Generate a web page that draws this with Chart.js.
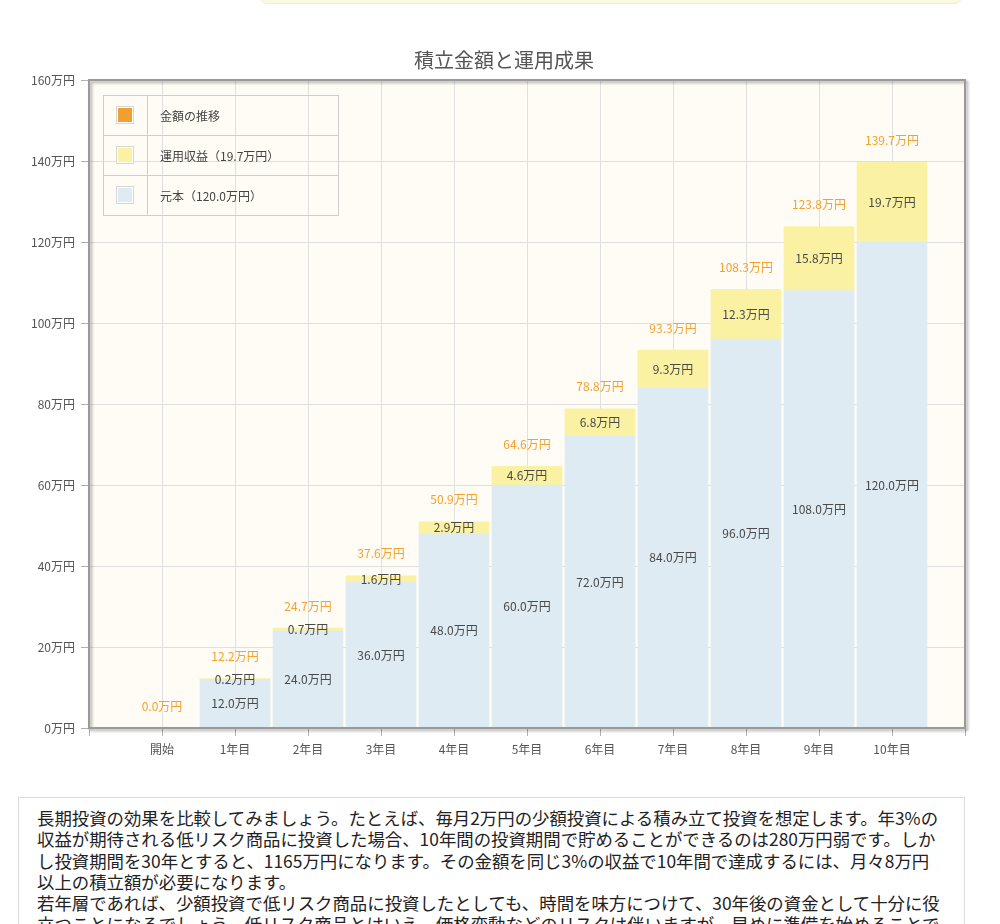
<!DOCTYPE html>
<html lang="ja">
<head>
<meta charset="utf-8">
<title>積立金額と運用成果</title>
<script src="https://cdn.jsdelivr.net/npm/chart.js@4/dist/chart.umd.min.js"></script>
<style>
  body { margin: 0; width: 1000px; height: 924px; overflow: hidden; background: #fff;
         font-family: 'Noto Sans CJK JP', sans-serif; position: relative; }
  .topbox { position: absolute; left: 258px; top: -30px; width: 704px; height: 32px;
            background: #f9f9e4; border: 1px solid #efefd2; border-radius: 10px; }
  .chart-wrap { position: absolute; left: 0; top: 40px; width: 1000px; height: 740px; }
  .note { position: absolute; left: 18px; top: 797px; width: 909px; padding: 9px 18px 20px 18px;
          border: 1px solid #ddd; font-size: 17.4px; line-height: 21.3px; color: #222; }
  .note span { display: block; white-space: nowrap; }
</style>
</head>
<body>
<div class="topbox"></div>
<div class="chart-wrap"><canvas id="fundChart" width="1000" height="740"></canvas></div>
<div class="note">
  <span>長期投資の効果を比較してみましょう。たとえば、毎月2万円の少額投資による積み立て投資を想定します。年3%の</span>
  <span>収益が期待される低リスク商品に投資した場合、10年間の投資期間で貯めることができるのは280万円弱です。しか</span>
  <span>し投資期間を30年とすると、1165万円になります。その金額を同じ3%の収益で10年間で達成するには、月々8万円</span>
  <span>以上の積立額が必要になります。</span>
  <span>若年層であれば、少額投資で低リスク商品に投資したとしても、時間を味方につけて、30年後の資金として十分に役</span>
  <span>立つことになるでしょう。低リスク商品とはいえ、価格変動などのリスクは伴いますが、早めに準備を始めることで</span>
</div>
<script>
// datos del gráfico
const categories = ['開始', '1年目', '2年目', '3年目', '4年目', '5年目', '6年目', '7年目', '8年目', '9年目', '10年目'];
const principal = [0, 12.0, 24.0, 36.0, 48.0, 60.0, 72.0, 84.0, 96.0, 108.0, 120.0];
const profit = [0, 0.2, 0.7, 1.6, 2.9, 4.6, 6.8, 9.3, 12.3, 15.8, 19.7];
const total = [0, 12.2, 24.7, 37.6, 50.9, 64.6, 78.8, 93.3, 108.3, 123.8, 139.7];
const yTickStep = 20;
const yMax = 160;

const FONT = "'Noto Sans CJK JP', sans-serif";
Chart.defaults.font.family = FONT;
Chart.defaults.font.size = 12;
Chart.defaults.color = '#555';

const toPoints = arr => arr.map((v, i) => ({ x: i, y: v }));
const fmt = v => v.toFixed(1) + '万円';

// fondo y marco del área del gráfico
const plotFrame = {
    id: 'plotFrame',
    beforeDraw(chart) {
        const { ctx, chartArea: a } = chart;
        ctx.save();
        ctx.fillStyle = '#fefcf5';
        ctx.fillRect(a.left, a.top, a.right - a.left, a.bottom - a.top);
        ctx.restore();
    },
    afterDatasetsDraw(chart) {
        const { ctx, chartArea: a } = chart;
        ctx.save();
        ctx.shadowColor = 'rgba(0,0,0,0.35)';
        ctx.shadowBlur = 3;
        ctx.shadowOffsetX = 2;
        ctx.shadowOffsetY = 2;
        ctx.strokeStyle = '#9a9a9a';
        ctx.lineWidth = 2;
        ctx.strokeRect(a.left, a.top, a.right - a.left, a.bottom - a.top);
        ctx.restore();
    }
};

// etiquetas de valores sobre las barras
const valueLabels = {
    id: 'valueLabels',
    afterDatasetsDraw(chart) {
        const { ctx } = chart;
        const xs = chart.scales.x, ys = chart.scales.y;
        ctx.save();
        ctx.font = '12px ' + FONT;
        ctx.textAlign = 'center';
        ctx.textBaseline = 'middle';
        categories.forEach((c, i) => {
            const x = xs.getPixelForValue(i);
            if (principal[i] > 0) {
                ctx.fillStyle = '#4a4a4a';
                ctx.fillText(fmt(principal[i]), x, (ys.getPixelForValue(0) + ys.getPixelForValue(principal[i])) / 2);
            }
            if (profit[i] > 0) {
                ctx.fillStyle = '#4a4a4a';
                ctx.fillText(fmt(profit[i]), x, (ys.getPixelForValue(principal[i]) + ys.getPixelForValue(principal[i] + profit[i])) / 2);
            }
            ctx.fillStyle = '#f4a12e';
            ctx.fillText(fmt(total[i]), x, ys.getPixelForValue(total[i]) - 22);
        });
        ctx.restore();
    }
};

// leyenda en forma de tabla dentro del gráfico
const tableLegend = {
    id: 'tableLegend',
    afterDraw(chart) {
        const { ctx, chartArea: a } = chart;
        const items = chart.data.datasets;
        const x0 = a.left + 14, y0 = a.top + 15, w = 235, rowH = 40, colW = 44;
        ctx.save();
        ctx.strokeStyle = '#cfcfcf';
        ctx.lineWidth = 1;
        ctx.strokeRect(x0 + 0.5, y0 + 0.5, w, rowH * items.length);
        ctx.beginPath();
        ctx.moveTo(x0 + colW + 0.5, y0);
        ctx.lineTo(x0 + colW + 0.5, y0 + rowH * items.length);
        for (let r = 1; r < items.length; r++) {
            ctx.moveTo(x0, y0 + rowH * r + 0.5);
            ctx.lineTo(x0 + w, y0 + rowH * r + 0.5);
        }
        ctx.stroke();
        ctx.font = '12px ' + FONT;
        ctx.textBaseline = 'middle';
        ctx.textAlign = 'left';
        items.forEach((ds, r) => {
            const cy = y0 + rowH * r + rowH / 2;
            ctx.fillStyle = '#d6d6d6';
            ctx.fillRect(x0 + 13, cy - 9, 18, 18);
            ctx.fillStyle = '#fff';
            ctx.fillRect(x0 + 14, cy - 8, 16, 16);
            ctx.fillStyle = ds.legendColor;
            ctx.fillRect(x0 + 15, cy - 7, 14, 14);
            ctx.fillStyle = '#444';
            ctx.fillText(ds.label, x0 + colW + 13, cy + 1);
        });
        ctx.restore();
    }
};

const last = categories.length - 1;

new Chart(document.getElementById('fundChart'), {
    data: {
        datasets: [
            {
                type: 'line',
                label: '金額の推移',
                data: toPoints(total),
                showLine: false,
                pointRadius: 0,
                borderColor: '#f0a030',
                legendColor: '#f0a030'
            },
            {
                type: 'bar',
                label: '運用収益（' + fmt(profit[last]) + '）',
                data: toPoints(profit),
                backgroundColor: '#faf2a2',
                legendColor: '#faf2a2',
                barThickness: 70,
                stack: 'money',
                order: 2
            },
            {
                type: 'bar',
                label: '元本（' + fmt(principal[last]) + '）',
                data: toPoints(principal),
                backgroundColor: '#deebf2',
                legendColor: '#deebf2',
                barThickness: 70,
                stack: 'money',
                order: 1
            }
        ]
    },
    options: {
        responsive: false,
        animation: false,
        devicePixelRatio: 1,
        layout: { padding: { left: 8, right: 0, top: 0, bottom: 0 } },
        plugins: {
            legend: { display: false },
            tooltip: { enabled: false },
            title: {
                display: true,
                text: '積立金額と運用成果',
                color: '#555',
                font: { size: 20, weight: 'normal', lineHeight: 1.2 },
                padding: { top: 8, bottom: 8 }
            }
        },
        scales: {
            x: {
                type: 'linear',
                min: -1,
                max: categories.length,
                offset: false,
                stacked: true,
                afterFit: s => { s.height = 52; },
                border: { display: false },
                grid: { offset: false, color: '#e0e0e0', tickColor: '#b0b0b0', tickLength: 8 },
                ticks: {
                    stepSize: 1,
                    autoSkip: false,
                    maxRotation: 0,
                    padding: 6,
                    color: '#555',
                    callback: v => categories[v] ?? ''
                }
            },
            y: {
                min: 0,
                max: yMax,
                stacked: true,
                afterFit: s => { s.width = 81; },
                border: { display: false },
                grid: { color: '#e0e0e0', tickColor: '#b0b0b0', tickLength: 8 },
                ticks: {
                    stepSize: yTickStep,
                    padding: 6,
                    color: '#555',
                    callback: v => v + '万円'
                }
            },
            // espacio vacío a la derecha del marco
            yRight: {
                position: 'right',
                display: true,
                afterFit: s => { s.width = 35; },
                border: { display: false },
                grid: { display: false },
                ticks: { display: false }
            }
        }
    },
    plugins: [plotFrame, valueLabels, tableLegend]
});
</script>
</body>
</html>
